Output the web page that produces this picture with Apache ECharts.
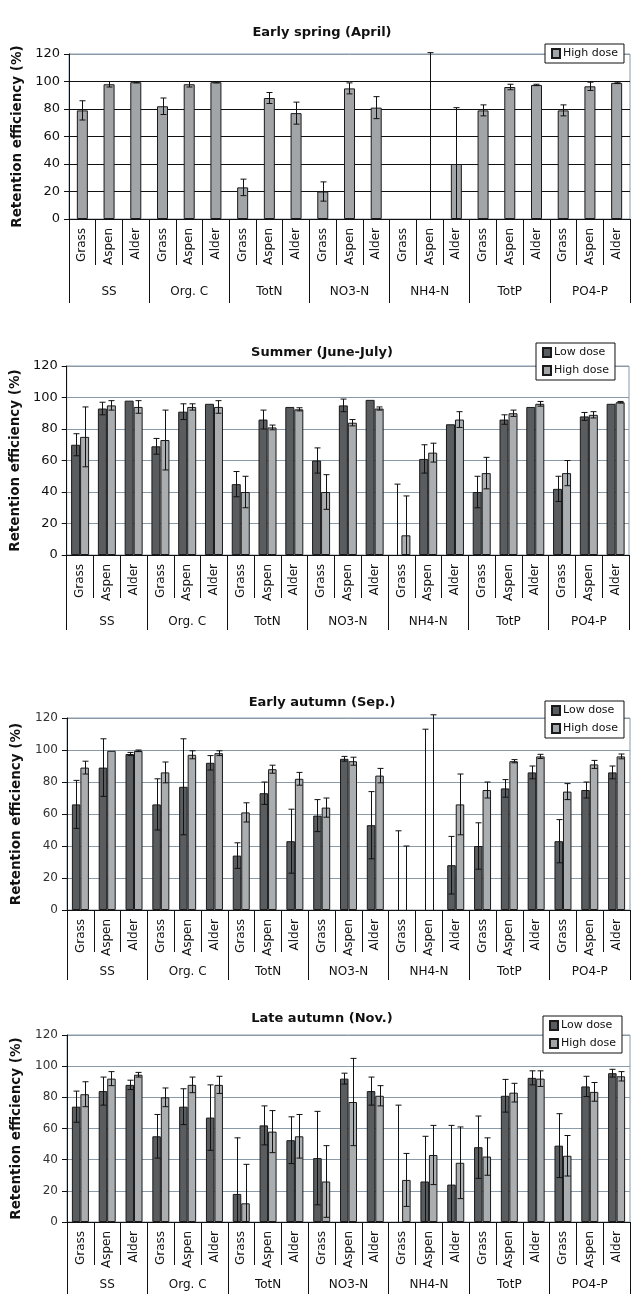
<!DOCTYPE html>
<html>
<head>
<meta charset="utf-8">
<script src="https://cdn.jsdelivr.net/npm/echarts@6/dist/echarts.min.js"></script>
<style>
html,body{margin:0;padding:0;background:#fff;}
#c{width:632px;height:1294px;}
</style>
</head>
<body>
<div id="c"></div>
<script>
// ---- data ----
const species = ['Grass', 'Aspen', 'Alder'];
const groups = ['SS', 'Org. C', 'TotN', 'NO3-N', 'NH4-N', 'TotP', 'PO4-P'];
const yTicks = [0, 20, 40, 60, 80, 100, 120];
const panelTitles = ['Early spring (April)', 'Summer (June-July)', 'Early autumn (Sep.)', 'Late autumn (Nov.)'];

// Early spring (only high dose)
const spHigh    = [79, 98, 99.5, 82, 98, 99.5, 23, 88, 77, 20, 95, 81, null, null, 40, 79, 96, 97.5, 79, 96.5, 99];
const spHighErr = [7, 2, 0.5, 6, 2, 0.5, 6, 4, 8, 7, 4, 8, null, 121, 41, 4, 2, 0.5, 4, 3, 0.5];

// Summer
const suLow     = [70, 93, 98, 69, 91, 96, 45, 86, 94, 60, 95, 98.5, null, 61, 83, 40, 86, 94, 42, 88, 96];
const suLowErr  = [7, 4, null, 5, 5, null, 8, 6, null, 8, 4, null, 45, 9, null, 10, 3, null, 8, 2.5, null];
const suHigh    = [75, 95, 94, 73, 94, 94, 40, 81, 92.5, 40, 84, 93, 12.5, 65, 86, 52, 90, 96, 52, 89, 97];
const suHighErr = [19, 3, 4, 19, 2, 4, 10, 1.5, 1, 11, 2, 1, 25, 6, 5, 10, 2, 1.5, 8, 2, 0.5];

// Early autumn
const eaLow     = [66, 89, 97.5, 66, 77, 92, 34, 73, 43, 59, 94.5, 53, null, null, 28, 40, 76, 86, 43, 75, 86];
const eaLowErr  = [15, 18, 1, 16, 30, 4.5, 8, 7, 20, 10, 1.5, 21, 49.5, 113, 18, 14.5, 5.5, 4, 13.5, 5, 4];
const eaHigh    = [89, 99.5, 99.5, 86, 97, 98, 61, 88, 82, 64, 93, 84, null, null, 66, 75, 93, 96, 74, 91, 96];
const eaHighErr = [4, null, 0.5, 6.5, 2.5, 1.5, 6, 2.5, 4, 6, 2.5, 4.5, 40, 122, 19, 5, 1, 1.3, 5, 2.5, 1.5];

// Late autumn
const laLow     = [74, 84, 88, 55, 74, 67, 18, 62, 52.5, 41, 92, 84, null, 26, 24, 48, 81, 92.5, 49, 87, 95.5];
const laLowErr  = [10, 9, 3, 14, 11.5, 21, 36, 12.5, 15, 30, 3.5, 9, 75, 29, 38, 20, 10.5, 4.5, 20.5, 6.5, 2.5];
const laHigh    = [82, 92, 94.5, 80, 88, 88, 12, 58, 55, 26, 77, 81, 27, 43, 38, 42, 83, 92, 42.5, 83.5, 93.5];
const laHighErr = [8, 4.5, 1.5, 6, 5, 5.5, 25, 13.5, 14, 23, 28, 6.5, 17, 19, 23, 12, 6, 5, 13, 6, 3];

// ---- build ----
const categories = [];
groups.forEach(() => species.forEach(s => categories.push(s)));

const FONT = 'DejaVu Sans';
const LOW_COLOR = '#595d60';
const HIGH_COLOR = '#abaeb0';
const GRID_COLOR = '#8a9aa8';

const layouts = [
  { left: 69, right: 2, top: 54, height: 165, tickLen: 46, groupLen: 84, groupMargin: 67, titleTop: 26, legendLeft: 545, legendTop: 44 },
  { left: 65, right: 3, top: 366, height: 189, tickLen: 43, groupLen: 75, groupMargin: 61, titleTop: 346, legendLeft: 536, legendTop: 343 },
  { left: 67, right: 2, top: 718, height: 192, tickLen: 42, groupLen: 70, groupMargin: 56, titleTop: 696, legendLeft: 545, legendTop: 701 },
  { left: 67, right: 2, top: 1035, height: 187, tickLen: 43, groupLen: 72, groupMargin: 57, titleTop: 1012, legendLeft: 543, legendTop: 1016 }
];

const panels = [
  { series: [{ name: 'High dose', vals: spHigh, errs: spHighErr, color: '#a2a5a7' }], barWidth: 11 },
  { series: [{ name: 'Low dose', vals: suLow, errs: suLowErr, color: LOW_COLOR }, { name: 'High dose', vals: suHigh, errs: suHighErr, color: HIGH_COLOR }], barWidth: 9 },
  { series: [{ name: 'Low dose', vals: eaLow, errs: eaLowErr, color: LOW_COLOR }, { name: 'High dose', vals: eaHigh, errs: eaHighErr, color: HIGH_COLOR }], barWidth: 8.5 },
  { series: [{ name: 'Low dose', vals: laLow, errs: laLowErr, color: LOW_COLOR }, { name: 'High dose', vals: laHigh, errs: laHighErr, color: HIGH_COLOR }], barWidth: 8.5 }
];

function errRender(offset) {
  return function (params, api) {
    const x = api.value(0);
    const v = api.value(1);
    const e = api.value(2);
    const lo = Math.max(0, v - e);
    const pTop = api.coord([x, v + e]);
    const pBot = api.coord([x, lo]);
    const cx = Math.round(pTop[0] + offset) + 0.5;
    const cap = 3;
    const st = { stroke: '#111', lineWidth: 1 };
    const children = [
      { type: 'line', shape: { x1: cx, y1: pTop[1], x2: cx, y2: pBot[1] }, style: st },
      { type: 'line', shape: { x1: cx - cap, y1: pTop[1], x2: cx + cap, y2: pTop[1] }, style: st }
    ];
    if (v - e > 0) {
      children.push({ type: 'line', shape: { x1: cx - cap, y1: pBot[1], x2: cx + cap, y2: pBot[1] }, style: st });
    }
    return { type: 'group', children: children };
  };
}

const option = {
  backgroundColor: '#fff',
  animation: false,
  title: [], grid: [], xAxis: [], yAxis: [], legend: [], series: []
};

panels.forEach((p, pi) => {
  const L = layouts[pi];
  option.title.push({
    text: panelTitles[pi], left: 322, top: L.titleTop, textAlign: 'center', padding: 0,
    textStyle: { fontFamily: FONT, fontWeight: 'bold', fontSize: 13, color: '#111' }
  });
  option.grid.push({
    left: L.left, right: L.right, top: L.top, height: L.height,
    show: true, borderColor: GRID_COLOR, borderWidth: 1, backgroundColor: 'transparent'
  });
  // category axis
  option.xAxis.push({
    type: 'category', gridIndex: pi, data: categories, position: 'bottom',
    axisLine: { show: true, onZero: false, lineStyle: { color: '#111', width: 1 } },
    axisTick: { show: true, interval: 0, length: L.tickLen, lineStyle: { color: '#111' } },
    axisLabel: { interval: 0, rotate: 90, margin: 9, fontFamily: FONT, fontSize: 12, color: '#111' },
    splitLine: { show: false }
  });
  // group axis
  option.xAxis.push({
    type: 'category', gridIndex: pi, data: groups, position: 'bottom',
    axisLine: { show: false },
    axisTick: { show: true, interval: 0, length: L.groupLen, lineStyle: { color: '#111' } },
    axisLabel: { interval: 0, margin: L.groupMargin, fontFamily: FONT, fontSize: 12, color: '#111' },
    splitLine: { show: false }
  });
  const splitColors = pi === 0 ? ['#111', '#111', '#111', '#111', '#111', '#111', GRID_COLOR] : GRID_COLOR;
  option.yAxis.push({
    type: 'value', gridIndex: pi, min: yTicks[0], max: yTicks[yTicks.length - 1], interval: yTicks[1] - yTicks[0],
    name: 'Retention efficiency (%)', nameLocation: 'middle', nameGap: 44,
    nameTextStyle: { fontFamily: FONT, fontWeight: 'bold', fontSize: 13.5, color: '#111' },
    axisLine: { show: true, lineStyle: { color: '#111' } },
    axisTick: { show: true, length: 5, lineStyle: { color: '#111' } },
    axisLabel: { margin: 9, fontFamily: FONT, fontSize: pi < 2 ? 13 : 12, color: pi < 2 ? '#111' : '#333' },
    splitLine: { show: true, lineStyle: { color: splitColors, width: 1 } }
  });
  option.legend.push({
    left: L.legendLeft, top: L.legendTop, orient: 'vertical',
    data: p.series.map(s => s.name),
    backgroundColor: '#fff', borderColor: '#111', borderWidth: 1, borderRadius: 0,
    padding: [4, 6, 4, 6], itemGap: 7, itemWidth: 8, itemHeight: 9, icon: 'rect',
    textStyle: { fontFamily: FONT, fontSize: 11, color: '#111', padding: [0, 0, 0, -2] },
    selectedMode: false, z: 10
  });
  const n = p.series.length;
  p.series.forEach((s, si) => {
    option.series.push({
      type: 'bar', name: s.name, xAxisIndex: pi * 2, yAxisIndex: pi,
      data: s.vals.map(v => (v === null ? '-' : v)),
      barWidth: p.barWidth, barGap: '0%',
      itemStyle: { color: s.color, borderColor: '#1a1a1a', borderWidth: 1 }
    });
  });
  p.series.forEach((s, si) => {
    const offset = (si - (n - 1) / 2) * p.barWidth;
    const d = [];
    s.errs.forEach((e, i) => {
      if (e !== null) d.push([i, s.vals[i] === null ? 0 : s.vals[i], e]);
    });
    option.series.push({
      type: 'custom', name: s.name + ' error', xAxisIndex: pi * 2, yAxisIndex: pi,
      renderItem: errRender(offset), data: d, z: 5, clip: false, silent: true,
      encode: { x: 0, y: 1 }
    });
  });
});

const chart = echarts.init(document.getElementById('c'), null, { renderer: 'canvas' });
chart.setOption(option);
</script>
</body>
</html>
